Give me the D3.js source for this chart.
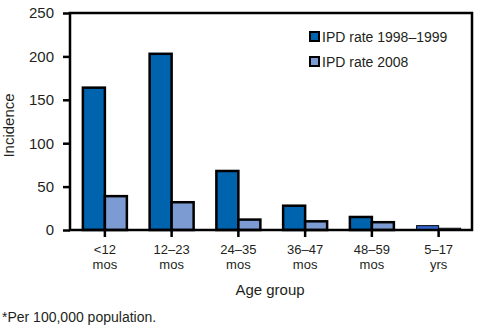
<!DOCTYPE html>
<html>
<head>
<meta charset="utf-8">
<script src="https://cdn.jsdelivr.net/npm/d3@7"></script>
<style>
  body { margin: 0; background: #fff; }
  svg text { font-family: "Liberation Sans", Arial, sans-serif; fill: #231f20; }
</style>
</head>
<body>
<svg id="chart"></svg>
<script>
// Age groups (two-line labels) and incidence per 100,000
const groups = ["<12|mos", "12–23|mos", "24–35|mos", "36–47|mos", "48–59|mos", "5–17|yrs"];
const rate1998 = [164, 203, 68, 28, 15, 5];
const rate2008 = [39, 32, 12, 10, 9, 2];
const yTicks = [0, 50, 100, 150, 200, 250];
const seriesNames = ["IPD rate 1998–1999", "IPD rate 2008"];
const colors = ["#0063ad", "#7b9bd2"];

const svg = d3.select("#chart")
    .attr("width", 480)
    .attr("height", 328);

const plotL = 70, plotR = 472, plotT = 13, plotB = 230;

const x = d3.scaleBand()
    .domain(groups)
    .range([71.5, plotR]);

const y = d3.scaleLinear()
    .domain([0, 250])
    .range([plotB, plotT]);

const barW = 22;

// Bars for each series, side by side around the group centre
[rate1998, rate2008].forEach((vals, s) => {
    svg.append("g").selectAll("rect")
        .data(vals)
        .enter()
        .append("rect")
        .attr("x", (d, i) => x(groups[i]) + x.bandwidth() / 2 - barW + s * barW)
        .attr("y", d => y(d))
        .attr("width", barW)
        .attr("height", d => plotB - y(d))
        .attr("fill", (d, i) => (s === 0 && i === groups.length - 1) ? "#3366cc" : colors[s])
        .attr("stroke", "#000")
        .attr("stroke-width", (d, i) => i === groups.length - 1 ? 1 : 2.5);
});

// Frame around the plot
svg.append("rect")
    .attr("x", plotL)
    .attr("y", plotT)
    .attr("width", plotR - plotL)
    .attr("height", plotB - plotT)
    .attr("fill", "none")
    .attr("stroke", "#000")
    .attr("stroke-width", 2.5);

// Y axis
const yAxis = svg.append("g")
    .attr("transform", `translate(${plotL},0)`)
    .call(d3.axisLeft(y).tickValues(yTicks).tickSize(7).tickPadding(9));
yAxis.select(".domain").remove();
yAxis.selectAll("line").attr("stroke", "#000").attr("stroke-width", 2.5);
yAxis.selectAll("text")
    .attr("font-size", 15)
    .style("font-family", "'Liberation Sans', Arial, sans-serif")
    .attr("fill", "#231f20");

// X axis
const xAxis = svg.append("g")
    .attr("transform", `translate(0,${plotB})`)
    .call(d3.axisBottom(x).tickSize(7).tickFormat(""));
xAxis.select(".domain").remove();
xAxis.selectAll("line").attr("stroke", "#000").attr("stroke-width", 2.5);

xAxis.selectAll(".tick").each(function(d) {
    d.split("|").forEach((line, k) => {
        d3.select(this).append("text")
            .attr("text-anchor", "middle")
            .attr("font-size", 13)
            .attr("fill", "#231f20")
            .attr("y", 24 + k * 15)
            .text(line);
    });
});

// Axis titles
svg.append("text")
    .attr("x", 270)
    .attr("y", 295)
    .attr("text-anchor", "middle")
    .attr("font-size", 15)
    .text("Age group");

svg.append("text")
    .attr("transform", `translate(14,${(plotT + plotB) / 2 + 4}) rotate(-90)`)
    .attr("text-anchor", "middle")
    .attr("font-size", 15)
    .text("Incidence");

// Legend
const legend = svg.append("g").attr("transform", "translate(309,31)");
seriesNames.forEach((name, i) => {
    const g = legend.append("g").attr("transform", `translate(0,${i * 25})`);
    g.append("rect")
        .attr("x", 1).attr("y", 1)
        .attr("width", 9).attr("height", 9)
        .attr("fill", colors[i])
        .attr("stroke", "#000")
        .attr("stroke-width", 2);
    g.append("text")
        .attr("x", 13)
        .attr("y", 11)
        .attr("font-size", 14)
        .text(name);
});

// Footnote
svg.append("text")
    .attr("x", 2)
    .attr("y", 322)
    .attr("font-size", 14)
    .text("*Per 100,000 population.");
</script>
</body>
</html>
